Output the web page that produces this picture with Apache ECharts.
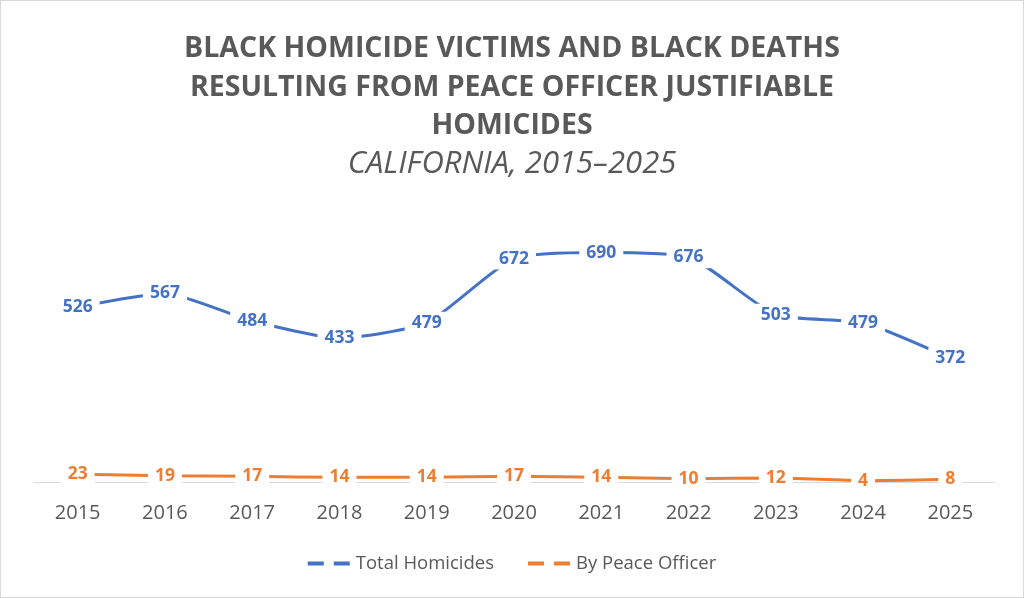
<!DOCTYPE html>
<html><head><meta charset="utf-8">
<script src="https://cdn.jsdelivr.net/npm/echarts@6/dist/echarts.min.js"></script>
<style>html,body{margin:0;padding:0;background:#fff}#c{width:1022px;height:596px;border:1px solid #d9d9d9}</style>
</head><body><div id="c"></div>
<script>
const years = ['2015','2016','2017','2018','2019','2020','2021','2022','2023','2024','2025'];
const totalHomicides = [526,567,484,433,479,672,690,676,503,479,372];
const byPeaceOfficer = [23,19,17,14,14,17,14,10,12,4,8];
const chart = echarts.init(document.getElementById('c'));
const font = "'Open Sans', 'Liberation Sans', sans-serif";
function series(name, data, color){
  return {name, type:'line', data, smooth:0.2, symbol:'circle', symbolSize:0.1, showSymbol:true,
    lineStyle:{color, width:3}, itemStyle:{color},
    label:{show:true, position:'inside', color, fontFamily:font, fontWeight:'bold', fontSize:17.5,
      backgroundColor:'#fff', padding:[2,7]},
    labelLayout:{hideOverlap:false}};
}
chart.setOption({
  animation:false,
  textStyle:{fontFamily:font},
  title:[
    {text:'BLACK HOMICIDE VICTIMS AND BLACK DEATHS\nRESULTING FROM PEACE OFFICER JUSTIFIABLE\nHOMICIDES', left:'center', top:24,
     textStyle:{fontFamily:font, fontWeight:'bold', fontSize:28.5, color:'#595959', lineHeight:38.5}},
    {text:'CALIFORNIA, 2015–2025', left:'center', top:143,
     textStyle:{fontFamily:font, fontStyle:'italic', fontWeight:'normal', fontSize:31, color:'#595959'}}
  ],
  legend:{bottom:19, left:'center', itemGap:34, itemWidth:44, itemHeight:4,
    icon:'path://M0,0h16v4h-16z M26,0h16v4h-16z',
    textStyle:{fontFamily:font, fontSize:18.5, color:'#595959'},
    data:['Total Homicides','By Peace Officer']},
  grid:{left:33, right:29, top:215, bottom:115},
  xAxis:{type:'category', data:years, boundaryGap:true,
    axisLine:{lineStyle:{color:'#d9d9d9', width:1}}, axisTick:{show:false},
    axisLabel:{fontFamily:font, fontSize:20, color:'#595959', margin:21}},
  yAxis:{type:'value', min:0, max:800, show:false, splitLine:{show:false}},
  series:[series('Total Homicides', totalHomicides, '#4472C4'), series('By Peace Officer', byPeaceOfficer, '#ED7D31')]
});
</script></body></html>
